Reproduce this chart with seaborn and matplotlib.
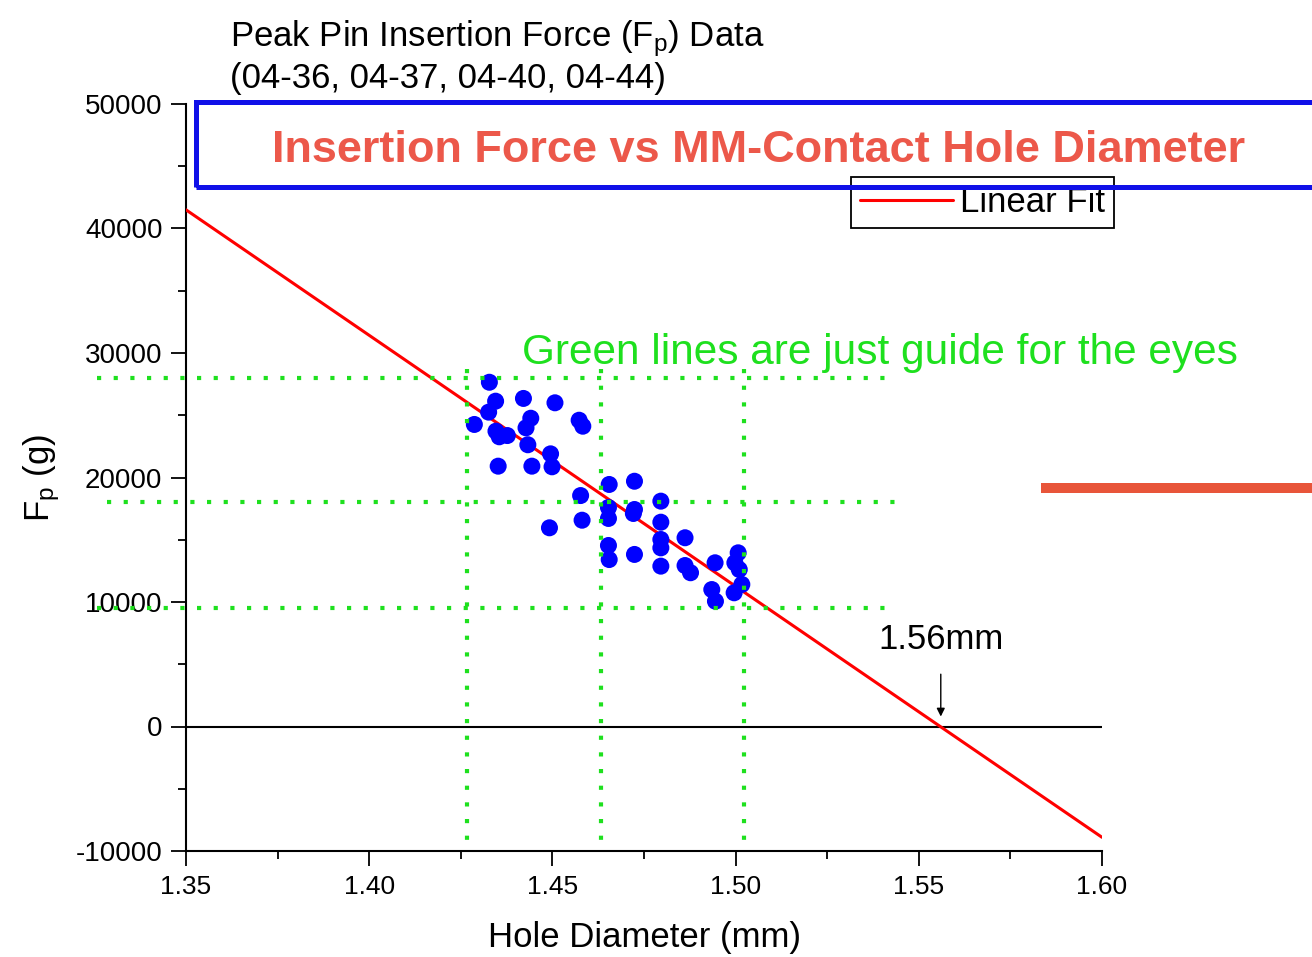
import numpy as np
import pandas as pd
import matplotlib.pyplot as plt
import matplotlib.patches as patches
from matplotlib.lines import Line2D
from matplotlib.ticker import MultipleLocator
import seaborn as sns

# hole diameter (mm) and peak insertion force (g)
hole_diameter = [1.4328, 1.4345, 1.4326, 1.4287, 1.4346, 1.4355, 1.4377, 1.4352,
                 1.4421, 1.4507, 1.4441, 1.4428, 1.4433, 1.4495, 1.4499, 1.4444,
                 1.4573, 1.4583, 1.4577, 1.4581, 1.4492,
                 1.4655, 1.4653, 1.4653, 1.4724, 1.4724, 1.4721, 1.4796, 1.4796,
                 1.4796, 1.4796, 1.4796, 1.4653, 1.4655, 1.4724,
                 1.4862, 1.4862, 1.4877, 1.4944, 1.4935, 1.4945,
                 1.5007, 1.4998, 1.5010, 1.5017, 1.4996]
peak_force = [27650, 26130, 25250, 24260, 23720, 23270, 23370, 20910,
              26350, 26000, 24760, 23990, 22630, 21900, 20860, 20910,
              24600, 24120, 18550, 16570, 15960,
              19440, 17590, 16710, 19700, 17430, 17110, 18100, 16410,
              15020, 14350, 12880, 14540, 13410, 13820,
              15160, 12930, 12350, 13150, 11000, 10060,
              13950, 13150, 12610, 11410, 10740]

# linear fit end points
fit_x = [1.35, 1.60]
fit_y = [41500, -8900]
zero_cross = 1.556

# green guide lines
guide_y = [28000, 18000, 9500]
guide_y_start = [1.3257, 1.3284, 1.3257]
guide_y_end = [1.5416, 1.5440, 1.5416]
guide_x = [1.4267, 1.4633, 1.5023]
guide_x_top = 28700

df = pd.DataFrame({'d': hole_diameter, 'f': peak_force})
fit = pd.DataFrame({'d': fit_x, 'f': fit_y})

sns.set_style('ticks')
plt.rcParams['font.family'] = ['Liberation Sans', 'DejaVu Sans']
plt.rcParams['mathtext.fontset'] = 'custom'
plt.rcParams['mathtext.rm'] = 'Liberation Sans'
plt.rcParams['mathtext.it'] = 'Liberation Sans'
plt.rcParams['axes.unicode_minus'] = False
plt.rcParams['text.color'] = 'black'
plt.rcParams['axes.labelcolor'] = 'black'
plt.rcParams['xtick.color'] = 'black'
plt.rcParams['ytick.color'] = 'black'

W, H = 1312, 957
fig = plt.figure(figsize=(13.12, 9.57), dpi=100)
ax = fig.add_axes([186 / W, 1 - 851 / H, (1102 - 186) / W, (851 - 104) / H])

sns.lineplot(data=fit, x='d', y='f', color='red', lw=2.2, ax=ax, label='Linear Fit', zorder=3)
sns.scatterplot(data=df, x='d', y='f', color='blue', s=150, edgecolor='none', ax=ax, zorder=4)
ax.axhline(0, color='black', lw=1.5, zorder=2)

green = '#1ee01e'
for y, x0, x1 in zip(guide_y, guide_y_start, guide_y_end):
    ax.plot([x0, x1], [y, y], color=green, lw=3, ls=(0, (1, 3)),
            dash_capstyle='butt', clip_on=False, zorder=5)
for x in guide_x:
    ax.plot([x, x], [guide_x_top, -10000], color=green, lw=3, ls=(0, (1, 3)),
            dash_capstyle='butt', clip_on=False, zorder=5)

ax.set_xlim(1.35, 1.60)
ax.set_ylim(-10000, 50000)
ax.xaxis.set_major_locator(MultipleLocator(0.05))
ax.xaxis.set_minor_locator(MultipleLocator(0.025))
ax.yaxis.set_major_locator(MultipleLocator(10000))
ax.yaxis.set_minor_locator(MultipleLocator(5000))
ax.xaxis.set_major_formatter(plt.FormatStrFormatter('%.2f'))
ax.tick_params(which='major', direction='out', length=11, width=1.3, labelsize=19, pad=6)
ax.tick_params(which='minor', direction='out', length=6, width=1.3)
ax.tick_params(axis='y', labelsize=20)
sns.despine(ax=ax)
for s in ['left', 'bottom']:
    ax.spines[s].set_linewidth(1.5)
    ax.spines[s].set_color('black')
ax.grid(False)

ax.set_xlabel('Hole Diameter (mm)', fontsize=25, labelpad=16)
ax.set_ylabel('F$_\\mathregular{p}$ (g)', fontsize=25, labelpad=10)

ax.text(zero_cross, 7000, '1.56mm', ha='center', va='center', fontsize=25)
ax.annotate('', xy=(zero_cross, 800), xytext=(zero_cross, 4200),
            arrowprops=dict(arrowstyle='-|>', color='black', lw=1, mutation_scale=12,
                            shrinkA=0, shrinkB=0))

leg = ax.legend(loc='upper left', bbox_to_anchor=(0.726, 0.902), borderaxespad=0,
                fontsize=25, frameon=True, fancybox=False, edgecolor='black',
                handlelength=2.7, handletextpad=0.2, borderpad=0.25)
leg.get_frame().set_linewidth(1.3)
leg.get_frame().set_alpha(1)

fig.text(230 / W, 1 - 46 / H, 'Peak Pin Insertion Force (F$_\\mathregular{p}$) Data',
         fontsize=25, va='baseline', ha='left')
fig.text(230 / W, 1 - 88 / H, '(04-36, 04-37, 04-40, 04-44)',
         fontsize=25, va='baseline', ha='left')

rect = patches.Rectangle((196 / W, 1 - 187 / H), (1330 - 196) / W, 85.5 / H,
                         transform=fig.transFigure, fill=False, edgecolor='#1010e8',
                         lw=3.6, zorder=10)
fig.add_artist(rect)
fig.text(759 / W, 1 - 162 / H, 'Insertion Force vs MM-Contact Hole Diameter',
         fontsize=32.5, fontweight='bold', color='#ec584a', ha='center', va='baseline')
fig.text(880 / W, 1 - 364 / H, 'Green lines are just guide for the eyes',
         fontsize=30.5, color=green, ha='center', va='baseline')

fig.add_artist(Line2D([1041 / W, 1.0], [1 - 488 / H, 1 - 488 / H], color='#e8553a',
                      lw=7.2, solid_capstyle='butt'))

fig.savefig('out.png', dpi=100)
